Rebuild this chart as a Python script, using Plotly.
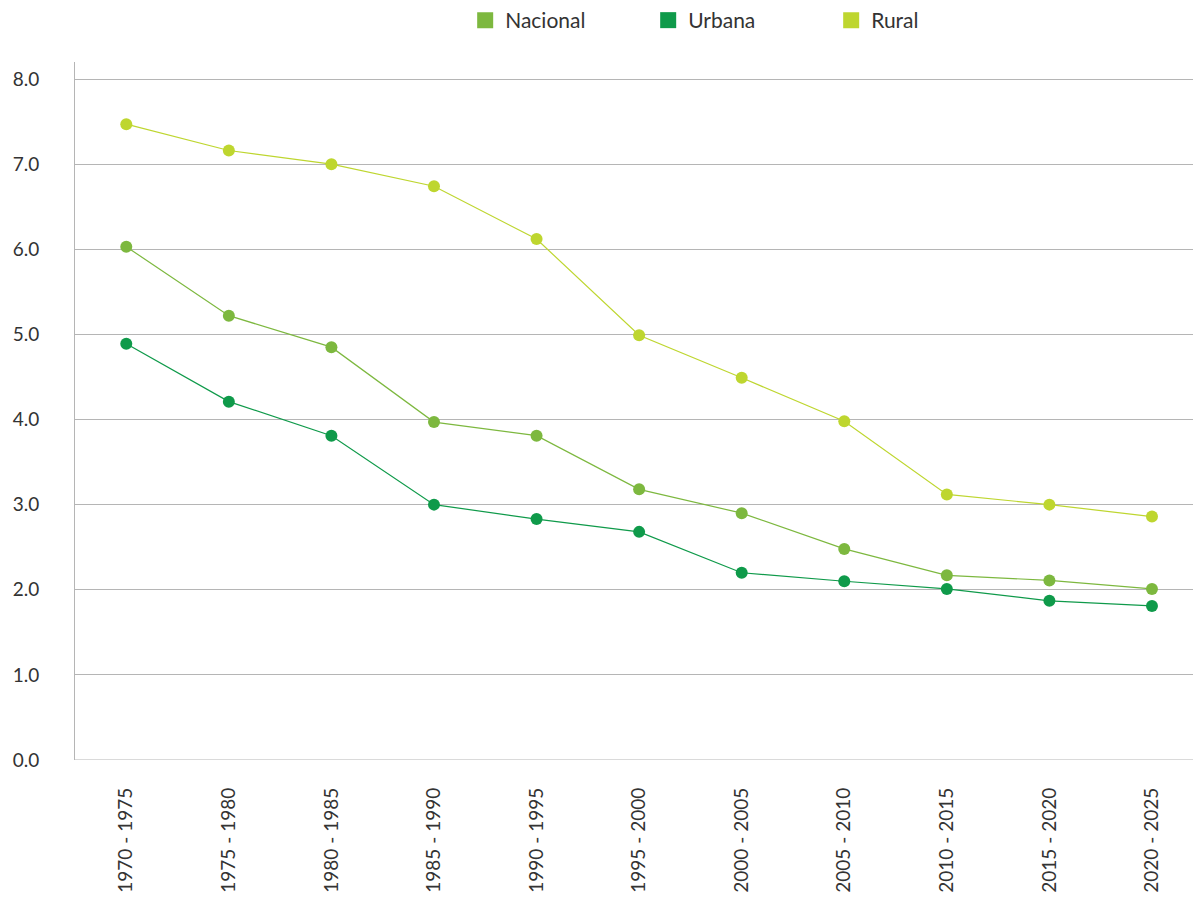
import plotly.graph_objects as go

categories = ["1970 - 1975", "1975 - 1980", "1980 - 1985", "1985 - 1990", "1990 - 1995",
              "1995 - 2000", "2000 - 2005", "2005 - 2010", "2010 - 2015", "2015 - 2020", "2020 - 2025"]
nacional = [6.03, 5.22, 4.85, 3.97, 3.81, 3.18, 2.90, 2.48, 2.17, 2.11, 2.01]
urbana = [4.89, 4.21, 3.81, 3.00, 2.83, 2.68, 2.20, 2.10, 2.01, 1.87, 1.81]
rural = [7.47, 7.16, 7.00, 6.74, 6.12, 4.99, 4.49, 3.98, 3.12, 3.00, 2.86]
y_ticks = [0, 1, 2, 3, 4, 5, 6, 7, 8]
y_tick_labels = ["0.0", "1.0", "2.0", "3.0", "4.0", "5.0", "6.0", "7.0", "8.0"]

series = [("Nacional", nacional, "#7db83f"), ("Urbana", urbana, "#0f9a4a"), ("Rural", rural, "#bed62f")]

fig = go.Figure()
for name, vals, col in series:
    fig.add_trace(go.Scatter(x=categories, y=vals, mode="lines+markers", name=name,
                             line=dict(color=col, width=1.2),
                             marker=dict(color=col, size=12),
                             showlegend=False))
for name, vals, col in series:
    fig.add_trace(go.Scatter(x=[None], y=[None], mode="markers", name=name,
                             marker=dict(color=col, size=18, symbol="square")))

fig.update_layout(
    width=1193, height=911,
    margin=dict(l=75, r=0, t=62, b=151),
    paper_bgcolor="white", plot_bgcolor="white",
    font=dict(family="Lato, sans-serif", color="#333333", size=19),
    legend=dict(orientation="h", x=0.349, xanchor="left", y=1.06, yanchor="middle",
                entrywidth=138, entrywidthmode="pixels", font=dict(size=21, color="#333333"),
                itemsizing="trace"),
    xaxis=dict(type="category", range=[-0.5, 10.4], showgrid=False, showline=False,
               tickangle=-90, ticklabelstandoff=23, tickfont=dict(size=19),
               zeroline=False),
    yaxis=dict(range=[0, 8.2], tickvals=y_ticks, ticktext=y_tick_labels,
               showgrid=True, gridcolor="#b5b5b5", gridwidth=1,
               showline=True, linecolor="#b5b5b5", linewidth=1,
               zeroline=False, ticklabelstandoff=31, tickfont=dict(size=19)),
)
fig.add_hline(y=0, line=dict(color="#b5b5b5", width=1))

fig.write_html("out.html")
